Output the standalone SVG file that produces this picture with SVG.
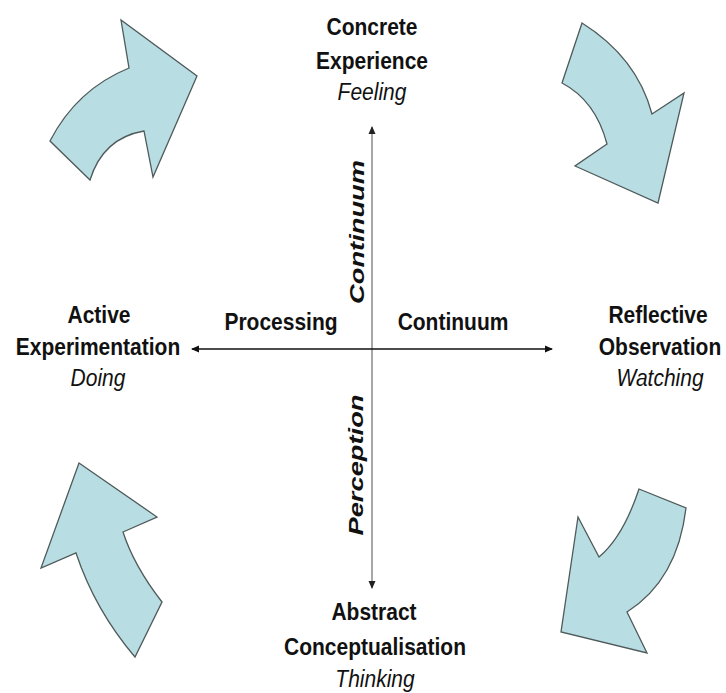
<svg xmlns="http://www.w3.org/2000/svg" width="726" height="693" viewBox="0 0 726 693">
<style>
.arr{fill:#b8dde2;stroke:#4f5a5a;stroke-width:1.3;stroke-linejoin:miter}
.t{font-family:"Liberation Sans",Arial,sans-serif;font-size:21px;fill:#111;text-anchor:middle}
.b{font-weight:bold}
.i{font-style:italic}
.ax{stroke-width:1.3;fill:none}
</style>
<defs>
<marker id="hk" markerWidth="8" markerHeight="8" refX="7" refY="4" orient="auto" markerUnits="userSpaceOnUse">
<path d="M0,0.5 L8,4 L0,7.5 Z" fill="#111"/>
</marker>
<marker id="hg" markerWidth="8" markerHeight="8" refX="7" refY="4" orient="auto" markerUnits="userSpaceOnUse">
<path d="M0,0.5 L8,4 L0,7.5 Z" fill="#222"/>
</marker>
</defs>
<rect width="726" height="693" fill="#fff"/>
<g id="cycle-arrows">
<path id="arrow-tl" class="arr" d="M129,68 L121,20 L197,76 L153,177 L144,131 Q103,138 90,180 L50,141 Q76.5,89.5 129,68 Z"/>
<path id="arrow-tr" class="arr" d="M582,23 Q637,57.5 652,114 L684,93 L658,203 L575,166 L607,144 Q595.5,100.5 562,83 Z"/>
<path id="arrow-br" class="arr" d="M639,489 L686,508 Q677.5,580 627,612 L647,653 L561,632 L578,517 L599,557 Q623,537 639,489 Z"/>
<path id="arrow-bl" class="arr" d="M79,463 L157,517 L123,532 Q134,566 162,602 L135,657 Q95,610 76,553 L41,568 Z"/>
</g>
<g id="connectors">
<line class="ax" x1="372" y1="349" x2="372" y2="127" stroke="#777" marker-end="url(#hg)"/>
<line class="ax" x1="372" y1="349" x2="372" y2="588" stroke="#777" marker-end="url(#hg)"/>
<line class="ax" x1="372" y1="349" x2="192" y2="349" stroke="#111" marker-end="url(#hk)"/>
<line class="ax" x1="372" y1="349" x2="552" y2="349" stroke="#111" marker-end="url(#hk)"/>
</g>
<g id="concrete-experience">
<text class="t b" transform="translate(372,35) scale(1,1.1)">Concrete</text>
<text class="t b" transform="translate(372,69) scale(1,1.1)">Experience</text>
<text class="t i" transform="translate(372,100) scale(1,1.1)">Feeling</text>
</g>
<g id="reflective-observation">
<text class="t b" transform="translate(658,323) scale(1,1.1)">Reflective</text>
<text class="t b" transform="translate(660,355) scale(1,1.1)">Observation</text>
<text class="t i" transform="translate(660,386) scale(1,1.1)">Watching</text>
</g>
<g id="abstract-conceptualisation">
<text class="t b" transform="translate(374,620) scale(1,1.1)">Abstract</text>
<text class="t b" transform="translate(375,655) scale(1,1.1)">Conceptualisation</text>
<text class="t i" transform="translate(375,687) scale(1,1.1)">Thinking</text>
</g>
<g id="active-experimentation">
<text class="t b" transform="translate(99,323) scale(1,1.1)">Active</text>
<text class="t b" transform="translate(98,355) scale(1,1.1)">Experimentation</text>
<text class="t i" transform="translate(98,386) scale(1,1.1)">Doing</text>
</g>
<g id="axis-labels">
<text class="t b" transform="translate(281,330) scale(1,1.1)">Processing</text>
<text class="t b" transform="translate(453,330) scale(1,1.1)">Continuum</text>
<text class="t b i" transform="translate(364,232) rotate(-90) scale(1.3,1)">Continuum</text>
<text class="t b i" transform="translate(363,465) rotate(-90) scale(1.3,1)">Perception</text>
</g>
</svg>
